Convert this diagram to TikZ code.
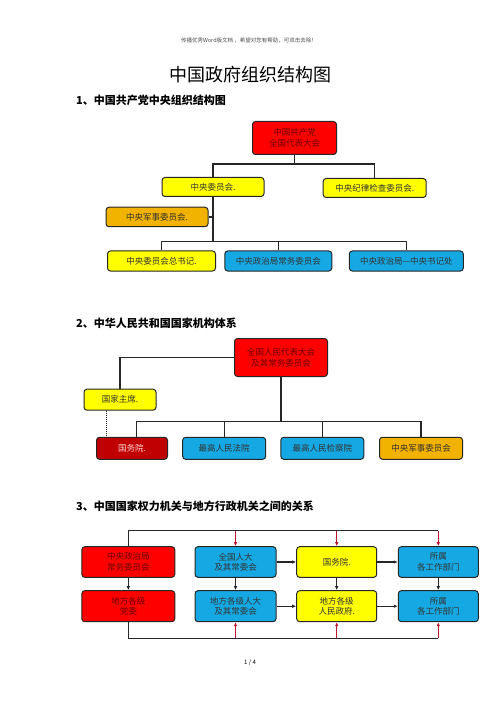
\documentclass[tikz,border=0pt]{standalone}
\usepackage{fontspec}
\setmainfont{Noto Sans CJK SC}
\usetikzlibrary{arrows.meta}

\definecolor{boxred}{RGB}{255,0,0}
\definecolor{boxyellow}{RGB}{255,255,0}
\definecolor{boxorange}{RGB}{242,178,0}
\definecolor{boxblue}{RGB}{22,168,226}
\definecolor{deepred}{RGB}{192,0,0}
\definecolor{redtext}{RGB}{105,0,0}
\definecolor{linkred}{RGB}{190,20,50}

\tikzset{
  orgbox/.style={draw=black!85, line width=1pt, rounded corners=3pt, inner sep=0pt,
    align=center, font=\fontsize{8.5}{10.5}\selectfont},
  redbox/.style={orgbox, fill=boxred, text=redtext},
  yellowbox/.style={orgbox, fill=boxyellow, text=black!80},
  orangebox/.style={orgbox, fill=boxorange, text=black!80},
  bluebox/.style={orgbox, fill=boxblue, text=black!80},
  deepbox/.style={orgbox, fill=deepred, text=red!15},
  link/.style={draw=black!85, line width=1.2pt},
  arr/.style={link, -{Latex[length=4pt,width=3.5pt]}},
  redarr/.style={draw=linkred, line width=1.1pt, -{Latex[length=4pt,width=3.5pt]}},
  heading/.style={anchor=west, inner sep=0pt, font=\fontsize{11}{13}\selectfont\bfseries}
}

\begin{document}
\begin{tikzpicture}[x=1pt,y=-1pt]
\useasboundingbox (0,0) rectangle (500,708);

\node[font=\fontsize{5.5}{6}\selectfont, text=black!70] (hdr) at (249,40) {传播优秀Word版文档 ，希望对您有帮助，可双击去除！};
\node[font=\fontsize{18}{20}\selectfont] (title) at (250,75) {中国政府组织结构图};
\node[font=\fontsize{6}{7}\selectfont] (pageno) at (250,663) {1 / 4};

% 1
\node[heading] (sec1) at (76,100) {1、中国共产党中央组织结构图};

\node[redbox, minimum width=84pt, minimum height=33pt] (cpc) at (294.5,138) {中国共产党\\全国代表大会};
\node[yellowbox, minimum width=102pt, minimum height=19pt] (cc) at (213,187) {中央委员会.};
\node[yellowbox, minimum width=103pt, minimum height=19pt] (cdi) at (374.7,188) {中央纪律检查委员会.};
\node[orangebox, minimum width=102pt, minimum height=19.5pt] (cmc) at (157,217) {中央军事委员会.};
\node[yellowbox, minimum width=108pt, minimum height=20pt] (gs) at (161.5,261) {中央委员会总书记.};
\node[bluebox, minimum width=107pt, minimum height=20pt] (psc) at (278.3,261) {中央政治局常务委员会};
\node[bluebox, minimum width=114pt, minimum height=20pt] (secr) at (406.3,261) {中央政治局—中央书记处};

\coordinate (j1) at (294.5,164);
\coordinate (j2) at (213,241.7);
\draw[link] (cpc.south) -- (j1);
\draw[link] (cc.north) |- (j1) -| (cdi.north);
\draw[link] (cc.south) -- (j2);
\draw[link] (cmc.east) -- (cmc.east -| cc.south);
\draw[link] (gs.north) |- (j2) -| (secr.north);
\draw[link] (psc.north) -- (psc.north |- j2);

% 2
\node[heading] (sec2) at (76,323) {2、中华人民共和国国家机构体系};

\node[redbox, minimum width=93pt, minimum height=38pt] (npc) at (281,357.5) {全国人民代表大会\\及其常务委员会};
\node[yellowbox, minimum width=72pt, minimum height=21pt] (pres) at (120,399.7) {国家主席.};
\node[deepbox, minimum width=71pt, minimum height=22pt] (state) at (132,448.3) {国务院.};
\node[bluebox, minimum width=83pt, minimum height=22pt] (court) at (224.2,448.3) {最高人民法院};
\node[bluebox, minimum width=83pt, minimum height=22pt] (proc) at (322.3,448.3) {最高人民检察院};
\node[orangebox, minimum width=83pt, minimum height=22pt] (cmcs) at (421,448.3) {中央军事委员会};

\coordinate (j3) at (281,421.7);
\draw[link] (npc.west) -| (pres.north);
\draw[link] (npc.south) -- (j3);
\draw[link] ([xshift=4.7pt]state.north) |- (j3) -| (cmcs.north);
\draw[link] (court.north) -- (court.north |- j3);
\draw[link] (proc.north) -- (proc.north |- j3);
\draw[black!85, line width=1pt, densely dotted] ([xshift=-14pt]pres.south) -- ([xshift=-14pt]pres.south |- state.north);

% 3
\node[heading] (sec3) at (76,506) {3、中国国家权力机关与地方行政机关之间的关系};

\node[redbox, minimum width=93pt, minimum height=30.6pt] (pb) at (128.3,562) {中央政治局\\常务委员会};
\node[redbox, minimum width=93pt, minimum height=31pt] (lpc) at (128.3,606.2) {地方各级\\党委};
\node[bluebox, minimum width=81pt, minimum height=30.6pt] (npcs) at (235.5,562) {全国人大\\及其常委会};
\node[yellowbox, minimum width=80pt, minimum height=30.6pt] (sc) at (336.7,562) {国务院.};
\node[bluebox, minimum width=80pt, minimum height=30.6pt] (dept) at (438.3,562) {所属\\各工作部门};
\node[bluebox, minimum width=81pt, minimum height=31pt] (lnpc) at (235.5,606.2) {地方各级人大\\及其常委会};
\node[yellowbox, minimum width=80pt, minimum height=31pt] (lgov) at (336.7,606.2) {地方各级\\人民政府.};
\node[bluebox, minimum width=80pt, minimum height=31pt] (ldept) at (438.3,606.2) {所属\\各工作部门};

\coordinate (tl) at (438.3,530.7);
\coordinate (bl) at (438.3,638.3);
\draw[link] (pb.north) |- (tl);
\draw[link] (lpc.south) |- (bl);

\draw[arr] (pb) -- (lpc);
\draw[arr] (npcs) -- (lnpc);
\draw[arr] (sc) -- (lgov);
\draw[arr] (dept) -- (ldept);
\draw[arr] (npcs) -- (sc);
\draw[arr] (sc) -- (dept);
\draw[arr] (lnpc) -- (lgov);
\draw[arr] (lgov) -- (ldept);

\foreach \b in {npcs,sc,dept}
  \draw[redarr] (\b.north |- tl) -- (\b.north);
\foreach \b in {lnpc,lgov,ldept}
  \draw[redarr] (\b.south |- bl) -- (\b.south);
\end{tikzpicture}
\end{document}
